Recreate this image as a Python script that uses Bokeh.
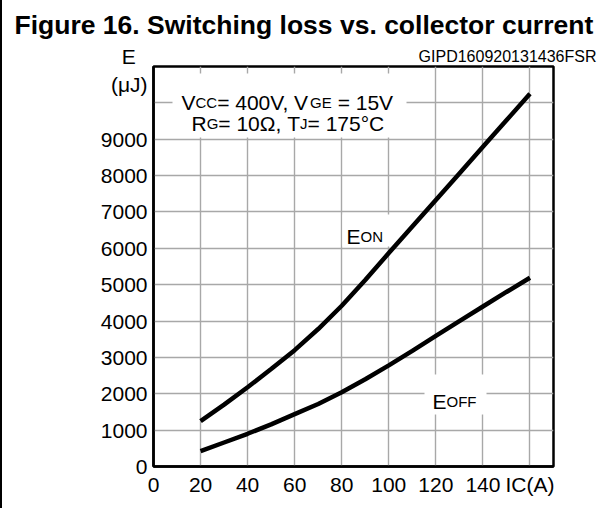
from bokeh.plotting import figure
from bokeh.models import Range1d, FixedTicker, Label, BoxAnnotation, Title
from bokeh.embed import file_html
from bokeh.resources import INLINE

# ---------------- data ----------------
ic = [20, 30, 40, 50, 60, 70, 80, 90, 100, 110, 120, 130, 140, 150, 160]
e_on = [1250, 1700, 2180, 2680, 3200, 3780, 4420, 5130, 5870, 6600, 7330, 8060, 8790, 9520, 10250]
e_off = [420, 660, 900, 1160, 1440, 1720, 2040, 2400, 2780, 3180, 3590, 4000, 4400, 4800, 5190]

x_ticks = [0, 20, 40, 60, 80, 100, 120, 140, 160]
x_tick_labels = ["0", "20", "40", "60", "80", "100", "120", "140", "IC(A)"]
y_ticks = [0, 1000, 2000, 3000, 4000, 5000, 6000, 7000, 8000, 9000, 10000, 10890]
y_tick_labels = ["0", "1000", "2000", "3000", "4000", "5000", "6000", "7000", "8000", "9000", "",
                 "E  \n(μJ)"]
x_grid = [20, 40, 60, 80, 100, 120, 140, 160]
y_grid = [1000, 2000, 3000, 4000, 5000, 6000, 7000, 8000, 9000, 10000]

title_text = "Figure 16. Switching loss vs. collector current"
code_text = "GIPD160920131436FSR"

# ---------------- layout ----------------
X0, X1 = 0, 170
Y0, Y1 = 0, 11000
FONT = "Liberation Sans"
BIG = 21
SMALL = 15

# pixel geometry of the frame (used to place in-plot annotations)
FL, FR, FT, FB = 154, 554, 66, 466
SX = (FR - FL) / (X1 - X0)
SY = (FB - FT) / (Y1 - Y0)


def dx(px):
    return X0 + (px - FL) / SX


def dy(py):
    return Y0 + (FB - py) / SY


p = figure(width=598, height=508,
           x_range=Range1d(X0, X1), y_range=Range1d(Y0, Y1),
           min_border_left=151, min_border_right=47,
           min_border_top=66, min_border_bottom=42,
           output_backend="svg", toolbar_location=None)
p.styles = {"border-left": "2px solid black"}

p.background_fill_color = "white"
p.border_fill_color = "white"
p.outline_line_color = "black"
p.outline_line_width = 2.5

for ax, ticks, labels in ((p.xaxis[0], x_ticks, x_tick_labels), (p.yaxis[0], y_ticks, y_tick_labels)):
    ax.ticker = FixedTicker(ticks=ticks)
    ax.major_label_overrides = {t: l for t, l in zip(ticks, labels)}
    ax.major_tick_in = 0
    ax.major_tick_out = 0
    ax.minor_tick_in = 0
    ax.minor_tick_out = 0
    ax.axis_line_color = "black"
    ax.axis_line_width = 2.5
    ax.major_label_text_font = FONT
    ax.major_label_text_font_size = f"{BIG}px"
    ax.major_label_text_color = "black"
    ax.major_label_text_line_height = 1.25
p.xaxis.major_label_standoff = 6
p.yaxis.major_label_standoff = 6

p.xgrid.ticker = FixedTicker(ticks=x_grid)
p.ygrid.ticker = FixedTicker(ticks=y_grid)
p.grid.grid_line_color = "#a8a8a8"
p.grid.grid_line_width = 1.4

p.line(ic, e_on, line_color="black", line_width=4.5)
p.line(ic, e_off, line_color="black", line_width=4.5)

# ---------------- titles (outside the frame) ----------------
p.title.text = title_text
p.title.align = "left"
p.title.offset = -139
p.title.text_font = FONT
p.title.text_font_size = "26.5px"
p.title.text_font_style = "bold"
p.title.text_color = "black"
p.title.standoff = 10

code_title = Title(text=code_text, align="right", offset=-43, text_font=FONT,
                   text_font_size="16px", text_font_style="normal", text_color="black",
                   standoff=3)
p.add_layout(code_title, "above")

# ---------------- text helpers (in-plot) ----------------
WID = {' ': 278, '=': 584, 'V': 667, 'C': 722, 'G': 778, 'E': 667, 'R': 722, 'T': 611,
       'J': 500, ',': 278, 'Ω': 750, '°': 400, 'N': 722, 'O': 778, 'F': 611, 'I': 278,
       '(': 333, ')': 333, 'A': 667, 'μ': 576}
for d in "0123456789":
    WID[d] = 556


def text_w(s, size):
    return sum(WID.get(c, 556) for c in s) * size / 1000.0


def rich(px, py, segs):
    off = 0.0
    for s, sz, gap in segs:
        off += gap
        p.add_layout(Label(x=dx(px), y=dy(py), x_offset=off, text=s,
                           text_font=FONT, text_font_size=f"{sz}px",
                           text_color="black",
                           text_align="left", text_baseline="alphabetic"))
        off += text_w(s, sz)


# white backgrounds for in-plot texts
for l, r, t, b in ((173, 407, 73, 137), (343, 391, 214, 246), (425, 487, 374, 414)):
    p.add_layout(BoxAnnotation(left=dx(l), right=dx(r), top=dy(t), bottom=dy(b),
                               fill_color="white", fill_alpha=1.0, line_color=None))

# conditions
rich(182, 102, [("V", BIG, 0), ("CC", SMALL, 0), ("= 400V, V", BIG, 0),
                ("GE", SMALL, 0), ("= 15V", BIG, 6)])
rich(192, 123, [("R", BIG, 0), ("G", SMALL, 0), ("= 10Ω, T", BIG, 0),
                ("J", SMALL, 0), ("= 175°C", BIG, 0)])

# curve labels
rich(347, 236, [("E", BIG, 0), ("ON", SMALL, 0)])
rich(433, 401, [("E", BIG, 0), ("OFF", SMALL, 0)])

open("out.html", "w").write(file_html(p, INLINE))
